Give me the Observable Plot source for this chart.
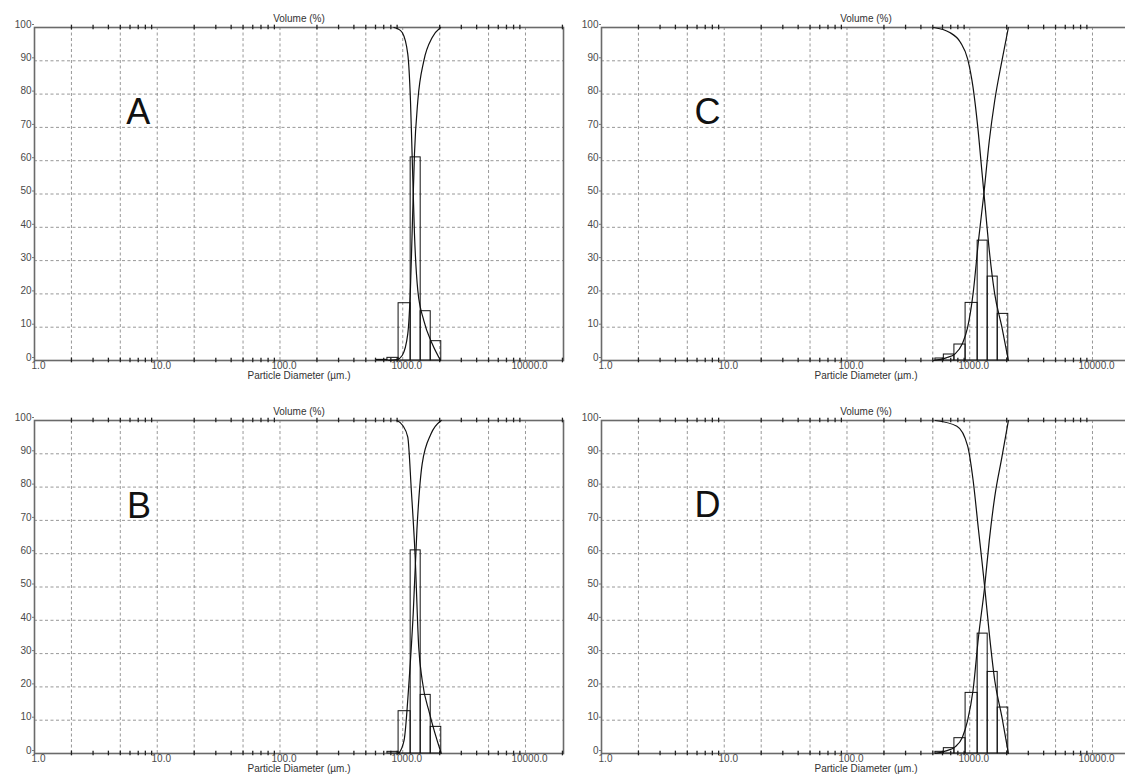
<!DOCTYPE html>
<html>
<head>
<meta charset="utf-8">
<script src="https://cdn.jsdelivr.net/npm/d3@7"></script>
<script src="https://cdn.jsdelivr.net/npm/@observablehq/plot@0.6"></script>
<style>
  html, body { margin: 0; padding: 0; background: #fff; overflow: hidden; width: 1125px; height: 778px; }
  #wrap { position: relative; width: 1125px; height: 778px; overflow: hidden; }
  .panel { position: absolute; width: 580px; height: 390px; }
  .panel svg { max-width: none !important; }
</style>
</head>
<body>
<div id="wrap"></div>
<script>
// ---- shared axes values ----
const xDomain = [1, 20400];
const xGrid = [2, 5, 10, 20, 50, 100, 200, 500, 1000, 2000, 5000, 10000];
const xLabels = [1, 10, 100, 1000, 10000];
const minorMultipliers = [2, 3, 4, 5, 6, 7, 8, 9];
const decades = [1, 10, 100, 1000, 10000];
const yGrid = [10, 20, 30, 40, 50, 60, 70, 80, 90];
const yTicks = [0, 10, 20, 30, 40, 50, 60, 70, 80, 90, 100];
const xTitle = "Particle Diameter (µm.)";
const yTitle = "Volume (%)";

// ---- histogram bins (µm) ----
const binLo = [525, 615, 750, 925, 1160, 1400, 1690];
const binHi = [615, 750, 925, 1160, 1400, 1690, 2060];
const volA = [0, 0.2, 0.8, 17.2, 61, 14.8, 5.8];
const volB = [0, 0, 0.5, 12.7, 61, 17.6, 8];
const volC = [0.6, 1.8, 4.8, 17.3, 36, 25.2, 14];
const volD = [0.5, 1.6, 4.6, 18.2, 36, 24.5, 13.8];

// ---- cumulative curves ----
const overA_x = [846, 900, 990, 1099, 1156, 1194, 1246, 1327, 1485, 1738, 2031];
const overA_y = [100, 99.7, 98.5, 92, 78, 61, 38, 21, 12, 5, 0];
const underA_x = [770, 900, 990, 1099, 1156, 1194, 1246, 1327, 1485, 1738, 2031];
const underA_y = [0, 0.3, 1.5, 8, 22, 39, 62, 78, 90, 97, 100];

const overB_x = [896, 1000, 1099, 1175, 1259, 1349, 1440, 1655, 2060];
const overB_y = [100, 98.5, 95, 79, 60, 32, 22, 12, 0];
const underB_x = [927, 1026, 1127, 1217, 1304, 1440, 1700, 2060];
const underB_y = [0, 4, 22, 42, 67, 87, 96, 100];

const overC_x = [507, 687, 841, 962, 1064, 1163, 1262, 1322, 1443, 1597, 1828, 2065];
const overC_y = [100, 98.5, 95.5, 90.5, 82, 70, 56, 48, 33, 20, 10, 0];
const underC_x = [507, 642, 760, 870, 962, 1064, 1178, 1303, 1443, 1597, 1828, 2065];
const underC_y = [0, 0.8, 2, 5, 10, 20, 36, 50, 66, 78, 90, 100];

const overD_x = [524, 786, 962, 1064, 1178, 1262, 1322, 1443, 1597, 1828, 2065];
const overD_y = [100, 98.3, 92.3, 82.2, 67.2, 57.2, 50.2, 36, 22, 11, 0];
const underD_x = [524, 642, 760, 870, 962, 1064, 1178, 1322, 1443, 1597, 1828, 2065];
const underD_y = [0, 0.8, 2, 4.8, 10, 19, 35, 50, 64, 77, 89, 100];

const panelLetters = ["A", "B", "C", "D"];

// ---- build helpers ----
const minorTicks = decades.flatMap(d => minorMultipliers.map(m => m * d)).filter(v => v < xDomain[1]);
const zipXY = (xs, ys) => xs.map((x, i) => ({x, y: ys[i]}));
const binsOf = vals => binLo.map((lo, i) => ({lo, hi: binHi[i], v: vals[i]}));

const panels = [
  {letter: panelLetters[0], left: 0,   top: 0,   bins: binsOf(volA), over: zipXY(overA_x, overA_y), under: zipXY(underA_x, underA_y), lx: 7.0, ly: 74.6},
  {letter: panelLetters[1], left: 0,   top: 393, bins: binsOf(volB), over: zipXY(overB_x, overB_y), under: zipXY(underB_x, underB_y), lx: 7.1, ly: 74.3},
  {letter: panelLetters[2], left: 567, top: 0,   bins: binsOf(volC), over: zipXY(overC_x, overC_y), under: zipXY(underC_x, underC_y), lx: 7.3, ly: 74.5},
  {letter: panelLetters[3], left: 567, top: 393, bins: binsOf(volD), over: zipXY(overD_x, overD_y), under: zipXY(underD_x, underD_y), lx: 7.3, ly: 74.5}
];

const wrap = document.getElementById("wrap");
const gridStyle = {stroke: "#8c8c8c", strokeWidth: 0.9, strokeDasharray: "3,2.5"};

for (const p of panels) {
  const chart = Plot.plot({
    width: 580,
    height: 390,
    marginLeft: 34,
    marginRight: 17,
    marginTop: 27,
    marginBottom: 30,
    style: {fontFamily: "'Liberation Sans', Arial, sans-serif", fontSize: "10px", color: "#4a4a4a", background: "white", overflow: "visible", maxWidth: "none"},
    x: {type: "log", domain: xDomain, axis: null},
    y: {domain: [0, 100], axis: null},
    marks: [
      Plot.ruleX(xGrid, gridStyle),
      Plot.ruleY(yGrid, gridStyle),
      Plot.frame({stroke: "#6a6a6a", strokeWidth: 1.6}),
      Plot.ruleX(minorTicks, {x: d => d, y1: -0.7, y2: 0.7, stroke: "#222", strokeWidth: 1.3}),
      Plot.ruleX(minorTicks, {x: d => d, y1: 99.3, y2: 100.7, stroke: "#222", strokeWidth: 1.3}),
      Plot.axisY(yTicks, {tickSize: 2, tickPadding: 1, dy: -3, label: null, stroke: "#777", fill: "#4a4a4a"}),
      Plot.text(xLabels, {x: d => d, text: d => d.toFixed(1), frameAnchor: "bottom", dy: 8, dx: 4, fill: "#4a4a4a"}),
      Plot.text([xTitle], {frameAnchor: "bottom", dy: 18, fill: "#333"}),
      Plot.text([yTitle], {frameAnchor: "top", dy: -13, fill: "#333"}),
      Plot.rectY(p.bins, {x1: "lo", x2: "hi", y: "v", fill: "none", stroke: "#111", strokeWidth: 1}),
      Plot.line(p.over, {x: "x", y: "y", curve: "monotone-x", stroke: "#111", strokeWidth: 1.2}),
      Plot.line(p.under, {x: "x", y: "y", curve: "monotone-x", stroke: "#111", strokeWidth: 1.2}),
      Plot.text([p], {x: "lx", y: "ly", text: "letter", fontSize: 36, fill: "#111", fontWeight: "normal"})
    ]
  });
  const div = document.createElement("div");
  div.className = "panel";
  div.style.left = p.left + "px";
  div.style.top = p.top + "px";
  div.appendChild(chart);
  wrap.appendChild(div);
}
</script>
</body>
</html>
